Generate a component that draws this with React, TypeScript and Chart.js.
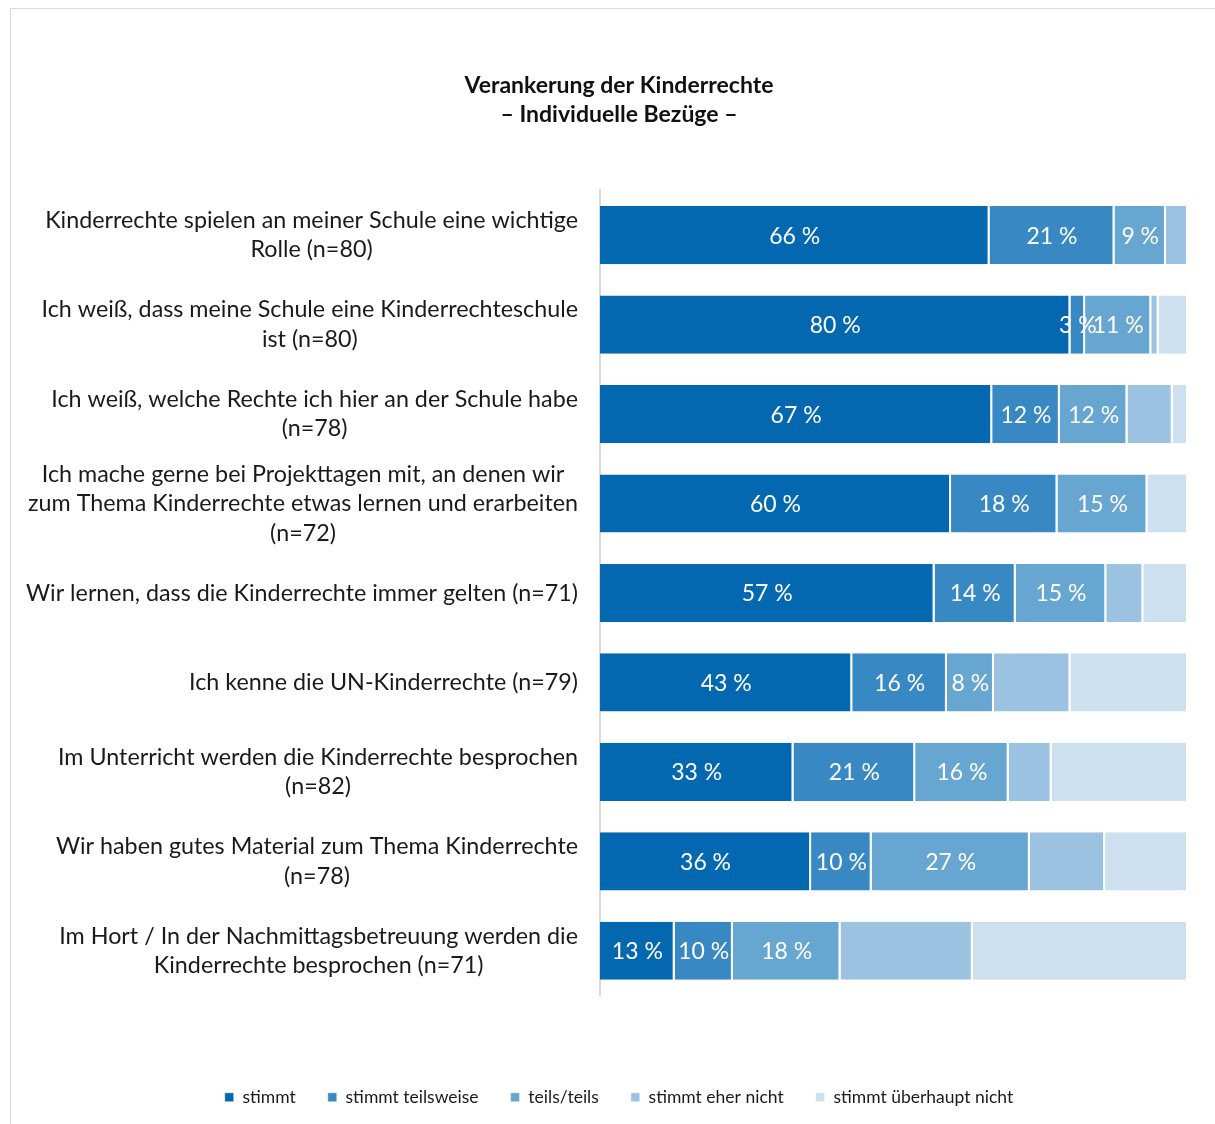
import React, { useEffect, useRef } from "react";
import { Chart, registerables } from "chart.js";

Chart.register(...registerables);

const titleLines = ["Verankerung der Kinderrechte", "– Individuelle Bezüge –"];

const categories: string[][] = [
  ["Kinderrechte spielen an meiner Schule eine wichtige", "Rolle (n=80)"],
  ["Ich weiß, dass meine Schule eine Kinderrechteschule", "ist (n=80)"],
  ["Ich weiß, welche Rechte ich hier an der Schule habe", "(n=78)"],
  ["Ich mache gerne bei Projekttagen mit, an denen wir", "zum Thema Kinderrechte etwas lernen und erarbeiten", "(n=72)"],
  ["Wir lernen, dass die Kinderrechte immer gelten (n=71)"],
  ["Ich kenne die UN-Kinderrechte (n=79)"],
  ["Im Unterricht werden die Kinderrechte besprochen", "(n=82)"],
  ["Wir haben gutes Material zum Thema Kinderrechte", "(n=78)"],
  ["Im Hort / In der Nachmittagsbetreuung werden die", "Kinderrechte besprochen (n=71)"],
];

const seriesNames = ["stimmt", "stimmt teilsweise", "teils/teils", "stimmt eher nicht", "stimmt überhaupt nicht"];
const seriesColors = ["#0468b1", "#3788c3", "#68a6d2", "#9cc2e2", "#cce0ef"];

const stimmt = [66.25, 80, 66.7, 59.7, 56.9, 42.9, 32.9, 35.9, 12.7];
const stimmtTeilweise = [21.25, 2.5, 11.5, 18.1, 13.8, 16.1, 20.7, 10.3, 9.9];
const teilsTeils = [8.75, 11.25, 11.5, 15.3, 15.4, 8.0, 15.9, 26.9, 18.3];
const eherNicht = [3.75, 1.25, 7.7, 0, 6.3, 13.0, 7.3, 12.8, 22.5];
const ueberhauptNicht = [0, 5, 2.6, 6.9, 7.6, 20.0, 23.2, 14.1, 36.6];

const seriesValues = [stimmt, stimmtTeilweise, teilsTeils, eherNicht, ueberhauptNicht];
const labeledSeries = 3;

const FONT = "Lato, 'Open Sans', sans-serif";

const categoryLabelPlugin = {
  id: "categoryLabels",
  afterDraw(chart: any) {
    const ctx = chart.ctx;
    const yScale = chart.scales.y;
    const rightX = chart.chartArea.left - 22;
    const lineH = 29.5;
    ctx.save();
    ctx.font = `23.3px ${FONT}`;
    ctx.fillStyle = "#1a1a1a";
    ctx.textAlign = "center";
    ctx.textBaseline = "middle";
    categories.forEach((lines, i) => {
      const y = yScale.getPixelForValue(i);
      const w = Math.max(...lines.map((l) => ctx.measureText(l).width));
      const cx = rightX - w / 2;
      lines.forEach((l, j) => {
        ctx.fillText(l, cx, y + (j - (lines.length - 1) / 2) * lineH);
      });
    });
    ctx.restore();
  },
};

const valueLabelPlugin = {
  id: "valueLabels",
  afterDatasetsDraw(chart: any) {
    const ctx = chart.ctx;
    ctx.save();
    ctx.font = `23px ${FONT}`;
    ctx.fillStyle = "#ffffff";
    ctx.textAlign = "center";
    ctx.textBaseline = "middle";
    for (let d = 0; d < labeledSeries; d++) {
      const meta = chart.getDatasetMeta(d);
      meta.data.forEach((el: any, i: number) => {
        const v = seriesValues[d][i];
        if (!v) return;
        const cx = (el.x + el.base) / 2;
        ctx.fillText(`${Math.round(v)} %`, cx, el.y + 1);
      });
    }
    ctx.restore();
  },
};

export default function App() {
  const ref = useRef<HTMLCanvasElement | null>(null);

  useEffect(() => {
    if (!ref.current) return;
    const chart = new Chart(ref.current, {
      type: "bar",
      data: {
        labels: categories.map((c) => c.join(" ")),
        datasets: seriesNames.map((name, k) => ({
          label: name,
          data: seriesValues[k],
          backgroundColor: seriesColors[k],
          borderColor: "#ffffff",
          borderWidth: { top: 0, bottom: 0, left: 0, right: 2 },
          borderSkipped: false,
          categoryPercentage: 1,
          barPercentage: 0.65,
        })),
      },
      options: {
        indexAxis: "y",
        responsive: false,
        animation: false,
        layout: { padding: { left: 39, right: 27, top: 0, bottom: 23 } },
        plugins: {
          tooltip: { enabled: false },
          title: {
            display: true,
            text: titleLines,
            color: "#111111",
            font: { family: FONT, size: 23, weight: "bold", lineHeight: 1.26 },
            padding: { top: 62.5, bottom: 61 },
          },
          legend: {
            position: "bottom",
            labels: {
              boxWidth: 9,
              boxHeight: 9,
              padding: 32,
              color: "#1a1a1a",
              font: { family: FONT, size: 17.5 },
            },
          },
        },
        scales: {
          x: {
            stacked: true,
            min: 0,
            max: 100,
            display: true,
            grid: { display: false },
            border: { display: false },
            ticks: { display: false },
            afterFit: (s: any) => {
              s.height = 61;
            },
          },
          y: {
            stacked: true,
            grid: { display: false },
            border: { display: true, color: "#d9d9d9", width: 2 },
            ticks: { display: false },
            afterFit: (s: any) => {
              s.width = 550;
            },
          },
        },
      },
      plugins: [categoryLabelPlugin, valueLabelPlugin],
    } as any);
    return () => chart.destroy();
  }, []);

  return (
    <div
      style={{
        position: "fixed",
        left: 10,
        top: 8,
        width: 1215,
        height: 1130,
        borderTop: "1px solid #d9d9d9",
        borderLeft: "1px solid #d9d9d9",
        overflow: "hidden",
        background: "#ffffff",
      }}
    >
      <canvas ref={ref} width={1204} height={1130} style={{ display: "block" }} />
    </div>
  );
}
